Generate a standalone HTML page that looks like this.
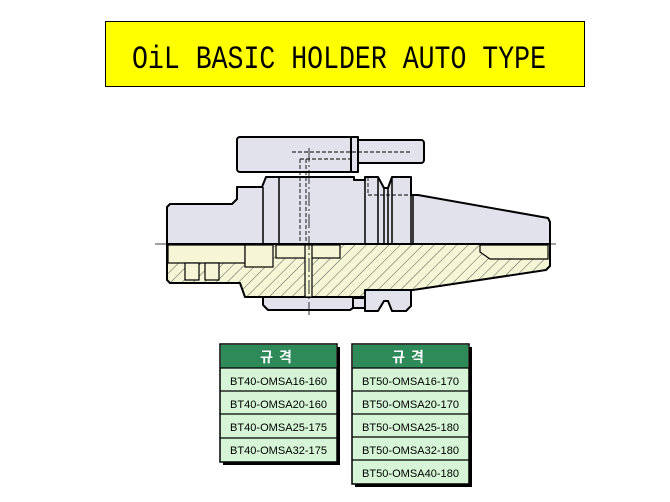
<!DOCTYPE html>
<html><head><meta charset="utf-8"><style>
html,body{margin:0;padding:0;background:#fff;}
body{width:670px;height:502px;overflow:hidden;position:relative;font-family:"Liberation Sans","Noto Sans CJK KR",sans-serif;}
</style></head><body>
<svg width="670" height="502" viewBox="0 0 670 502" xmlns="http://www.w3.org/2000/svg" style="position:absolute;left:0;top:0">
<defs>
<pattern id="h" patternUnits="userSpaceOnUse" width="8" height="8" patternTransform="rotate(45)">
<rect width="8" height="8" fill="#f4f6d6"/>
<line x1="0" y1="0" x2="0" y2="8" stroke="#333" stroke-width="0.8"/>
</pattern>
</defs>
<!-- title -->
<rect x="105.5" y="21.5" width="479" height="65" fill="#ffff00" stroke="#000" stroke-width="1"/>
<text x="132" y="68" font-size="32" font-family="Liberation Mono, monospace" textLength="414" lengthAdjust="spacingAndGlyphs" fill="#000">OiL BASIC HOLDER AUTO TYPE</text>

<g stroke="#000" stroke-width="2" stroke-linejoin="round">
<rect x="352" y="140" width="72" height="23" rx="3" fill="#e2e2ec"/>
<rect x="237" y="137" width="115" height="35" rx="3" fill="#e2e2ec"/>
<rect x="351" y="137" width="7" height="35" fill="#e2e2ec"/>
<path d="M263,296 L353,296 L353,308 L350,310 L268,310 L263,305 Z" fill="#e2e2ec"/>
<rect x="353" y="298" width="12" height="10" fill="#e2e2ec"/>
<path d="M365,290 L411,290 L411,306 L406,311 L392,311 L388,301 L384,301 L378,311 L365,311 Z" fill="#e2e2ec"/>
<path d="M167,207 L170,204 L232,204 L237,199 L237,187 L262,187 L266,177 L354,177 L354,180 L365,180 L365,177 L378,177 L384,188 L388,188 L392,177 L411,177 L411,195 L418,195 L548,218 L550,222 L550,244 L167,244 Z" fill="#e2e2ec"/>
<path d="M167,244 L550,244 L550,266 L546,270 L413,290 L365,290 L365,297 L245,297 L240,283 L170,283 L167,280 Z" fill="url(#h)"/>
</g>
<g fill="#f4f6d6" stroke="#000" stroke-width="1.2">
<rect x="168" y="245" width="77" height="18"/>
<rect x="245" y="245" width="28" height="22"/>
<rect x="276" y="245" width="64" height="13"/>
<path d="M480,245 L548,245 L548,259 L490,259 L480,252 Z"/>
<rect x="305" y="245" width="7" height="52"/>
<rect x="205" y="263" width="14" height="17"/>
<rect x="185" y="263" width="14" height="17"/>
</g>
<g stroke="#000" stroke-width="1.5" fill="none">
<line x1="263" y1="187" x2="263" y2="244"/>
<line x1="279" y1="177" x2="279" y2="244"/>
<line x1="365" y1="180" x2="365" y2="244"/>
<line x1="378" y1="177" x2="378" y2="244"/>
<line x1="384" y1="188" x2="384" y2="244"/>
<line x1="388" y1="188" x2="388" y2="244"/>
<line x1="392" y1="177" x2="392" y2="244"/>
<line x1="411" y1="177" x2="411" y2="244"/>
<line x1="413" y1="195" x2="413" y2="244"/>
</g>
<g stroke="#000" stroke-width="0.9" fill="none" stroke-dasharray="4,2">
<path d="M292,152 L410,152"/>
<path d="M300,159 L300,244 M306,159 L306,244 M300,159 L350,159"/>
<path d="M368,195 L413,195 M368,177 L368,195"/>
</g>
<g stroke="#000" stroke-width="0.8" fill="none" stroke-dasharray="14,3,2,3">
<line x1="155" y1="244" x2="556" y2="244"/>
<line x1="309" y1="148" x2="309" y2="315"/>
</g>

<rect x="223" y="347" width="117" height="118" fill="#000"/>
<rect x="220" y="344" width="117" height="118" fill="#d6f5d6" stroke="#000" stroke-width="1.5"/>
<rect x="221" y="345" width="115" height="23" fill="#2f8a5a"/>
<g stroke="#000" stroke-width="1.2">
<line x1="220" y1="368" x2="337" y2="368"/>
<line x1="220" y1="391" x2="337" y2="391"/>
<line x1="220" y1="414" x2="337" y2="414"/>
<line x1="220" y1="438" x2="337" y2="438"/>
</g>
<rect x="355" y="347" width="117" height="140" fill="#000"/>
<rect x="352" y="344" width="117" height="140" fill="#d6f5d6" stroke="#000" stroke-width="1.5"/>
<rect x="353" y="345" width="115" height="23" fill="#2f8a5a"/>
<g stroke="#000" stroke-width="1.2">
<line x1="352" y1="368" x2="469" y2="368"/>
<line x1="352" y1="391" x2="469" y2="391"/>
<line x1="352" y1="414" x2="469" y2="414"/>
<line x1="352" y1="437" x2="469" y2="437"/>
<line x1="352" y1="460" x2="469" y2="460"/>
</g>
<g font-family="Liberation Sans, Noto Sans CJK KR, sans-serif" font-size="14" font-weight="bold" fill="#fff" text-anchor="middle">
<text x="279" y="362" letter-spacing="6">규격</text>
<text x="411" y="362" letter-spacing="6">규격</text>
</g>
<g font-family="Liberation Sans, sans-serif" font-size="11" fill="#000">
<text x="230" y="385" textLength="97" lengthAdjust="spacingAndGlyphs">BT40-OMSA16-160</text>
<text x="230" y="408" textLength="97" lengthAdjust="spacingAndGlyphs">BT40-OMSA20-160</text>
<text x="230" y="431" textLength="97" lengthAdjust="spacingAndGlyphs">BT40-OMSA25-175</text>
<text x="230" y="454" textLength="97" lengthAdjust="spacingAndGlyphs">BT40-OMSA32-175</text>
<text x="362" y="385" textLength="97" lengthAdjust="spacingAndGlyphs">BT50-OMSA16-170</text>
<text x="362" y="408" textLength="97" lengthAdjust="spacingAndGlyphs">BT50-OMSA20-170</text>
<text x="362" y="431" textLength="97" lengthAdjust="spacingAndGlyphs">BT50-OMSA25-180</text>
<text x="362" y="454" textLength="97" lengthAdjust="spacingAndGlyphs">BT50-OMSA32-180</text>
<text x="362" y="477" textLength="97" lengthAdjust="spacingAndGlyphs">BT50-OMSA40-180</text>
</g>
</svg>
</body></html>
